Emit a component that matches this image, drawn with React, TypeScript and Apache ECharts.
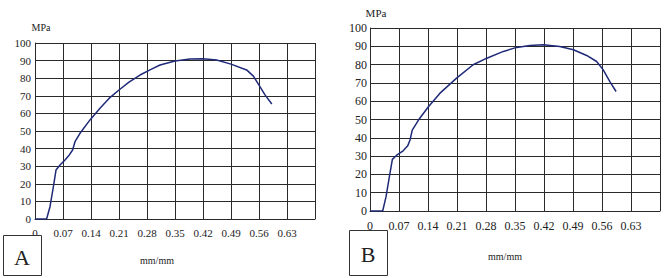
import React, { useEffect, useRef } from "react";
import * as echarts from "echarts";

const strainA = [0, 0.029, 0.0375, 0.046, 0.0525, 0.0625, 0.075, 0.0858, 0.094, 0.1, 0.1125, 0.1375, 0.1625, 0.185, 0.21, 0.235, 0.2625, 0.29, 0.3125, 0.35, 0.3875, 0.42, 0.454, 0.49, 0.529, 0.546, 0.56, 0.575, 0.592];
const stressA = [0, 0, 7, 18.4, 27.8, 30.7, 33.5, 36.4, 39.2, 43.9, 48.7, 56.3, 62.9, 68.5, 73.3, 77.8, 81.8, 85, 87.5, 89.8, 90.9, 91.1, 90.3, 88, 84.7, 81.2, 76.1, 70.5, 65.3];

const strainB = [0, 0.0306, 0.0386, 0.0467, 0.054, 0.0644, 0.08, 0.091, 0.0966, 0.102, 0.117, 0.141, 0.169, 0.209, 0.249, 0.282, 0.322, 0.354, 0.386, 0.418, 0.458, 0.491, 0.523, 0.547, 0.563, 0.579, 0.594];
const stressB = [0, 0, 7.7, 18.6, 28.2, 30.5, 32.9, 35.6, 38.8, 44.2, 49.7, 57, 64.4, 72.6, 79.9, 83.5, 87.2, 89.4, 90.5, 90.9, 89.9, 88.1, 85, 81.7, 77.1, 70.7, 65.3];

const xTickLabels = ["0", "0.07", "0.14", "0.21", "0.28", "0.35", "0.42", "0.49", "0.56", "0.63", ""];
const xStep = 0.07;
const yTickStep = 10;
const yMax = 100;
const xMax = 0.7;
const panelLabels = ["A", "B"];
const yName = "MPa";
const xName = "mm/mm";

const FONT = "'Liberation Serif', 'DejaVu Serif', serif";
const GRID = "#2a2a2a";
const LINE = "#1f2a78";

function xAxisOf(gridIndex: number, margin: number, fontSize: number) {
  return {
    type: "value",
    gridIndex,
    min: 0,
    max: xMax,
    interval: xStep,
    axisLine: { show: true, lineStyle: { color: GRID, width: 1 } },
    axisTick: { show: false },
    splitLine: { show: true, lineStyle: { color: GRID, width: 1 } },
    axisLabel: {
      margin,
      fontFamily: FONT,
      fontSize,
      color: "#222",
      showMaxLabel: true,
      formatter: (v: number) => xTickLabels[Math.round(v / xStep)] ?? "",
    },
  };
}

function yAxisOf(gridIndex: number, margin: number, fontSize: number) {
  return {
    type: "value",
    gridIndex,
    min: 0,
    max: yMax,
    interval: yTickStep,
    axisLine: { show: true, lineStyle: { color: GRID, width: 1 } },
    axisTick: { show: false },
    splitLine: { show: true, lineStyle: { color: GRID, width: 1 } },
    axisLabel: { margin, fontFamily: FONT, fontSize, color: "#222" },
  };
}

export default function App() {
  const ref = useRef<HTMLDivElement>(null);
  useEffect(() => {
    document.body.style.margin = "0";
    const chart = echarts.init(ref.current!, null, { renderer: "svg" });
    const txt = (x: number, y: number, text: string, size: number) => ({
      type: "text",
      x,
      y,
      z: 20,
      style: {
        text,
        fontFamily: FONT,
        fontSize: size,
        fill: "#222",
        align: "center",
        verticalAlign: "middle",
      },
    });
    chart.setOption({
      animation: false,
      backgroundColor: "#fff",
      grid: [
        { left: 35, top: 43, width: 280, height: 176 },
        { left: 370, top: 28, width: 290, height: 183 },
      ],
      xAxis: [xAxisOf(0, 8, 11), xAxisOf(1, 9, 12)],
      yAxis: [yAxisOf(0, 4, 11), yAxisOf(1, 3, 12)],
      series: [
        {
          type: "line",
          xAxisIndex: 0,
          yAxisIndex: 0,
          showSymbol: false,
          smooth: false,
          lineStyle: { color: LINE, width: 1.5 },
          data: strainA.map((x, i) => [x, stressA[i]]),
        },
        {
          type: "line",
          xAxisIndex: 1,
          yAxisIndex: 1,
          showSymbol: false,
          smooth: false,
          lineStyle: { color: LINE, width: 1.5 },
          data: strainB.map((x, i) => [x, stressB[i]]),
        },
      ],
      graphic: [
        txt(41, 27, yName, 10),
        txt(376, 13, yName, 11),
        txt(157, 260, xName, 10),
        txt(505, 256, xName, 10),
        {
          type: "rect",
          z: 15,
          shape: { x: 3.5, y: 235.5, width: 38, height: 40 },
          style: { fill: "#fff", stroke: "#333", lineWidth: 1 },
        },
        txt(22, 257, panelLabels[0], 22),
        {
          type: "rect",
          z: 15,
          shape: { x: 349.5, y: 230.5, width: 38, height: 45 },
          style: { fill: "#fff", stroke: "#333", lineWidth: 1 },
        },
        txt(368, 254, panelLabels[1], 22),
      ],
    });
    return () => chart.dispose();
  }, []);
  return <div ref={ref} style={{ width: 669, height: 278 }} />;
}
